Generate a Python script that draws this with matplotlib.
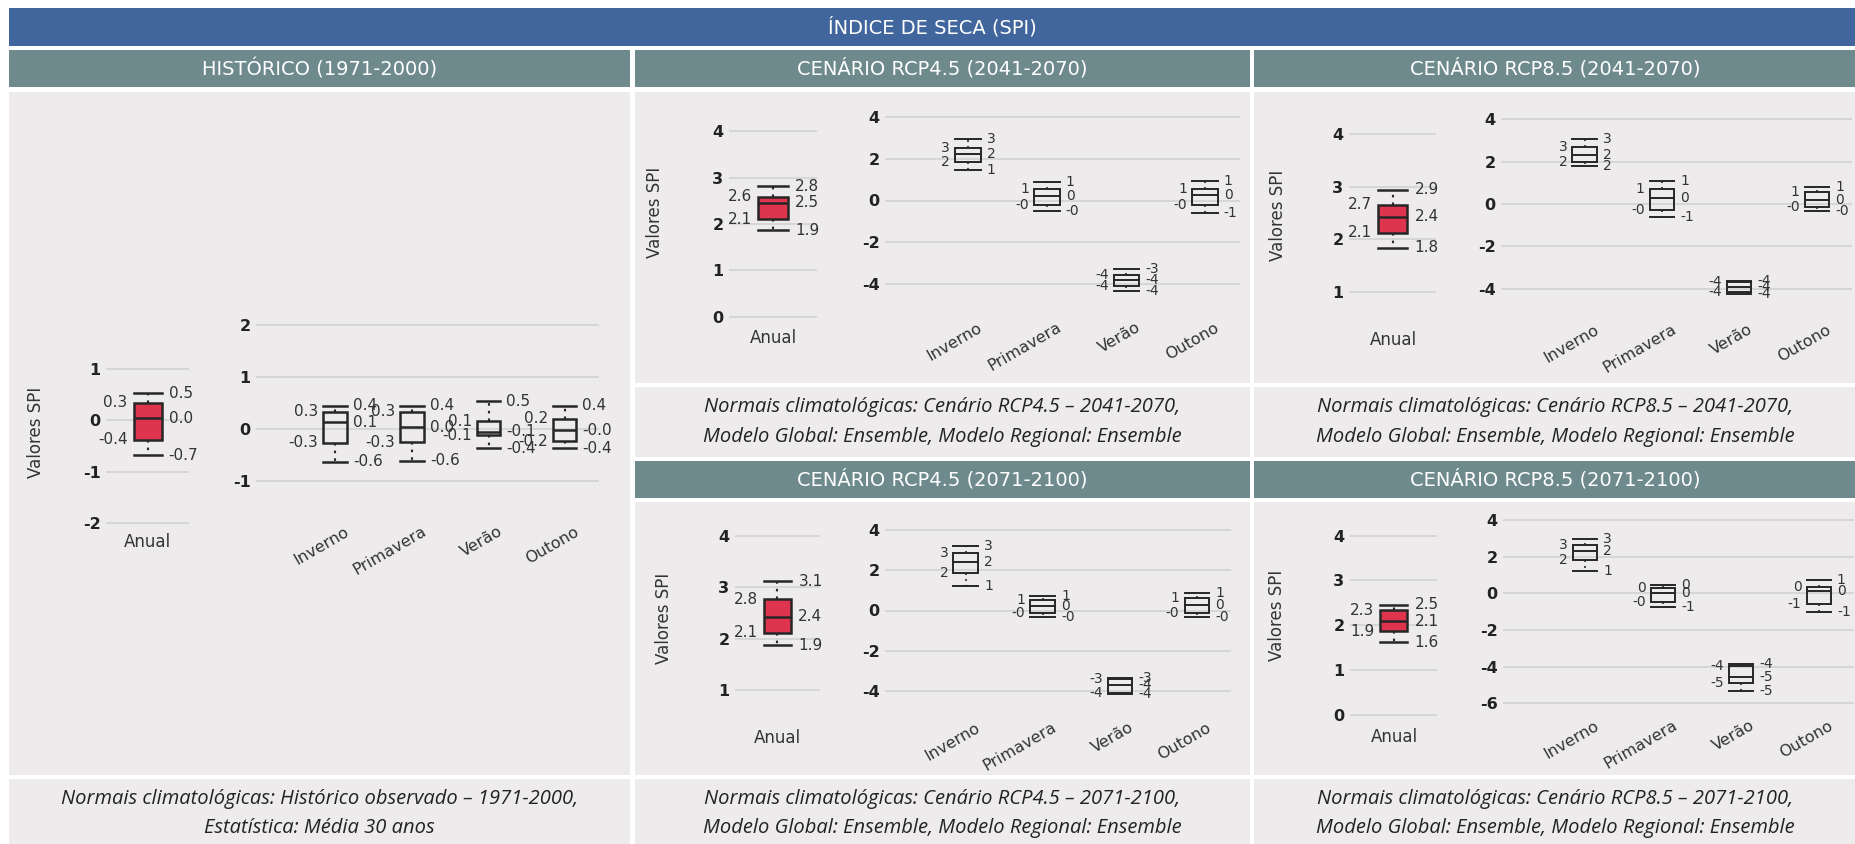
import matplotlib
matplotlib.use('Agg')
import matplotlib.pyplot as plt
from matplotlib.patches import Rectangle
from matplotlib.transforms import blended_transform_factory

# ---------------- data ----------------
title = 'ÍNDICE DE SECA (SPI)'
headers = ['HISTÓRICO (1971-2000)', 'CENÁRIO RCP4.5 (2041-2070)', 'CENÁRIO RCP8.5 (2041-2070)',
           'CENÁRIO RCP4.5 (2071-2100)', 'CENÁRIO RCP8.5 (2071-2100)']
footer_hist = ['Normais climatológicas: Histórico observado – 1971-2000,', 'Estatística: Média 30 anos']
footer_45a = ['Normais climatológicas: Cenário RCP4.5 – 2041-2070,', 'Modelo Global: Ensemble, Modelo Regional: Ensemble']
footer_85a = ['Normais climatológicas: Cenário RCP8.5 – 2041-2070,', 'Modelo Global: Ensemble, Modelo Regional: Ensemble']
footer_45b = ['Normais climatológicas: Cenário RCP4.5 – 2071-2100,', 'Modelo Global: Ensemble, Modelo Regional: Ensemble']
footer_85b = ['Normais climatológicas: Cenário RCP8.5 – 2071-2100,', 'Modelo Global: Ensemble, Modelo Regional: Ensemble']
seasons = ['Inverno', 'Primavera', 'Verão', 'Outono']
annual_cat = 'Anual'
y_label = 'Valores SPI'

# each list: [whisker low, q1, median, q3, whisker high]
hist_anual = [-0.68, -0.38, 0.04, 0.34, 0.53]
hist_inverno = [-0.64, -0.27, 0.12, 0.33, 0.44]
hist_primavera = [-0.62, -0.26, 0.03, 0.33, 0.44]
hist_verao = [-0.38, -0.13, -0.06, 0.14, 0.53]
hist_outono = [-0.38, -0.24, -0.03, 0.19, 0.44]

r45a_anual = [1.86, 2.10, 2.46, 2.59, 2.81]
r45a_inverno = [1.44, 1.84, 2.24, 2.52, 2.92]
r45a_primavera = [-0.49, -0.22, 0.20, 0.57, 0.89]
r45a_verao = [-4.32, -4.10, -3.79, -3.55, -3.27]
r45a_outono = [-0.62, -0.22, 0.25, 0.57, 0.94]

r85a_anual = [1.84, 2.12, 2.43, 2.66, 2.94]
r85a_inverno = [1.80, 2.00, 2.31, 2.71, 3.07]
r85a_primavera = [-0.60, -0.28, 0.27, 0.69, 1.09]
r85a_verao = [-4.27, -4.14, -3.90, -3.70, -3.64]
r85a_outono = [-0.31, -0.13, 0.19, 0.58, 0.79]

r45b_anual = [1.87, 2.12, 2.43, 2.77, 3.12]
r45b_inverno = [1.24, 1.85, 2.43, 2.85, 3.21]
r45b_primavera = [-0.30, -0.13, 0.20, 0.53, 0.70]
r45b_verao = [-4.14, -4.08, -3.69, -3.41, -3.36]
r45b_outono = [-0.33, -0.13, 0.28, 0.61, 0.89]

r85b_anual = [1.62, 1.86, 2.09, 2.33, 2.46]
r85b_inverno = [1.22, 1.84, 2.29, 2.65, 2.98]
r85b_primavera = [-0.75, -0.49, 0.02, 0.29, 0.47]
r85b_verao = [-5.31, -4.90, -4.55, -3.98, -3.84]
r85b_outono = [-1.04, -0.58, 0.11, 0.35, 0.71]

hist_anual_ticks = [-2, -1, 0, 1]
hist_season_ticks = [-1, 0, 1, 2]
r45a_anual_ticks = [0, 1, 2, 3, 4]
r45a_season_ticks = [-4, -2, 0, 2, 4]
r85a_anual_ticks = [1, 2, 3, 4]
r85a_season_ticks = [-4, -2, 0, 2, 4]
r45b_anual_ticks = [1, 2, 3, 4]
r45b_season_ticks = [-4, -2, 0, 2, 4]
r85b_anual_ticks = [0, 1, 2, 3, 4]
r85b_season_ticks = [-6, -4, -2, 0, 2, 4]

# ---------------- style ----------------
W, H = 1856, 844
BLUE = '#41669D'
HEAD = '#6E8A8D'
BG = '#EDEBEC'
RED = '#DF344E'
EDGE = '#262626'
GRID = '#D4D4D4'
TXT = '#333333'
plt.rcParams['font.family'] = ['DejaVu Sans']

fig = plt.figure(figsize=(W / 100, H / 100), dpi=100)
fig.patch.set_facecolor('white')


def rect(x0, y0, x1, y1, color):
    fig.patches.append(Rectangle((x0 / W, 1 - y1 / H), (x1 - x0) / W, (y1 - y0) / H,
                                 transform=fig.transFigure, facecolor=color, edgecolor='none', zorder=-5))


def ftext(x, y, s, **kw):
    fig.text(x / W, 1 - y / H, s, **kw)


# background blocks
rect(9, 8, 1856, 46, BLUE)
ftext(932, 27, title, color='white', fontsize=14, ha='center', va='center')
rect(9, 50, 630, 87, HEAD)
rect(635, 50, 1250, 87, HEAD)
rect(1254, 50, 1856, 87, HEAD)
rect(635, 461, 1250, 498, HEAD)
rect(1254, 461, 1856, 498, HEAD)
for (a, b), t, yc in [((9, 630), headers[0], 68.5), ((635, 1250), headers[1], 68.5),
                      ((1254, 1856), headers[2], 68.5), ((635, 1250), headers[3], 479.5),
                      ((1254, 1856), headers[4], 479.5)]:
    ftext((a + b) / 2, yc, t, color='white', fontsize=14, ha='center', va='center')
rect(9, 92, 630, 775, BG)
rect(635, 92, 1250, 383, BG)
rect(1254, 92, 1856, 383, BG)
rect(635, 502, 1250, 775, BG)
rect(1254, 502, 1856, 775, BG)
rect(9, 779, 630, 844, BG)
rect(635, 387, 1250, 457, BG)
rect(1254, 387, 1856, 457, BG)
rect(635, 779, 1250, 844, BG)
rect(1254, 779, 1856, 844, BG)

FOOT = dict(family='Open Sans', style='italic', fontsize=14.5, color='#222222', ha='center', va='center')
for (a, b), lines, y1, y2 in [((9, 630), footer_hist, 799, 828), ((635, 1250), footer_45a, 407, 437),
                              ((1254, 1856), footer_85a, 407, 437), ((635, 1250), footer_45b, 799, 828),
                              ((1254, 1856), footer_85b, 799, 828)]:
    ftext((a + b) / 2, y1, lines[0], **FOOT)
    ftext((a + b) / 2, y2, lines[1], **FOOT)


def make_axes(x0, x1, ytop, ybot, v_hi, py_hi, v_lo, py_lo, ticks):
    ppu = (py_lo - py_hi) / (v_hi - v_lo)

    def val(p):
        return v_hi - (p - py_hi) / ppu

    ax = fig.add_axes([x0 / W, 1 - ybot / H, (x1 - x0) / W, (ybot - ytop) / H])
    ax.set_ylim(val(ybot), val(ytop))
    ax.patch.set_alpha(0)
    for s in ax.spines.values():
        s.set_visible(False)
    ax.set_yticks(ticks)
    ax.set_yticklabels([str(t) for t in ticks], fontweight='bold', color='#222222', fontsize=11.5)
    ax.tick_params(axis='y', length=0, pad=4)
    ax.set_xticks([])
    ax.yaxis.grid(True, color=GRID, linewidth=1.3)
    ax.set_axisbelow(True)
    return ax


def draw_boxes(ax, stats_lists, centers, x0, x1, wpx, fill, fmt, lw, fs, gap):
    n = len(stats_lists)
    sp = (centers[-1] - centers[0]) / (n - 1) if n > 1 else 100.0
    pos = [(c - centers[0]) / sp for c in centers]
    ax.set_xlim((x0 - centers[0]) / sp, (x1 - centers[0]) / sp)
    w = wpx / sp
    stats = [dict(whislo=s[0], q1=s[1], med=s[2], q3=s[3], whishi=s[4]) for s in stats_lists]
    ax.bxp(stats, positions=pos, widths=w, capwidths=w, showfliers=False, patch_artist=True,
           manage_ticks=False,
           boxprops=dict(facecolor=fill, edgecolor=EDGE, linewidth=lw),
           medianprops=dict(color=EDGE, linewidth=lw),
           whiskerprops=dict(color=EDGE, linewidth=lw * 0.85, linestyle=(0, (1.2, 2.4))),
           capprops=dict(color=EDGE, linewidth=lw))
    for p, s in zip(pos, stats_lists):
        for v in (s[3], s[1]):
            ax.annotate(fmt.format(v), (p - w / 2, v), xytext=(-gap, 0), textcoords='offset pixels',
                        ha='right', va='center', fontsize=fs, color=TXT)
        for v in (s[4], s[2], s[0]):
            ax.annotate(fmt.format(v), (p + w / 2, v), xytext=(gap + 1, 0), textcoords='offset pixels',
                        ha='left', va='center', fontsize=fs, color=TXT)
    return pos


def panel(ylab_xy, an, se, anual_stats, season_stats, anual_ticks, season_ticks, season_fmt, s_lw, s_fs):
    ftext(ylab_xy[0], ylab_xy[1], y_label, rotation=90, ha='center', va='center', fontsize=12, color=TXT)
    # annual
    ax = make_axes(an['x0'], an['x1'], an['top'], an['bot'], an['vh'], an['ph'], an['vl'], an['pl'], anual_ticks)
    draw_boxes(ax, [anual_stats], [an['c']], an['x0'], an['x1'], an['w'], RED, '{:.1f}', 1.8, 11, 6)
    tr = blended_transform_factory(ax.transData, fig.transFigure)
    ax.text(0, 1 - an['lab'] / H, annual_cat, transform=tr, ha='center', va='center', fontsize=12, color=TXT)
    # seasons
    ax2 = make_axes(se['x0'], se['x1'], se['top'], se['bot'], se['vh'], se['ph'], se['vl'], se['pl'], season_ticks)
    pos = draw_boxes(ax2, season_stats, se['c'], se['x0'], se['x1'], se['w'], 'none', season_fmt, s_lw, s_fs, 5)
    tr2 = blended_transform_factory(ax2.transData, fig.transFigure)
    sp = (se['c'][-1] - se['c'][0]) / 3
    for p, name in zip(pos, seasons):
        ax2.text(p + 9 / sp, 1 - se['lab'] / H, name, transform=tr2, rotation=30, rotation_mode='anchor',
                 ha='right', va='top', fontsize=11.5, color=TXT)


# historical
panel((36, 432),
      dict(x0=106, x1=189, top=350, bot=530, vh=1, ph=369, vl=-2, pl=523, c=147.5, w=28, lab=542),
      dict(x0=256, x1=599, top=310, bot=515, vh=2, ph=325, vl=-1, pl=480.5, c=[335, 412, 488.6, 564.6], w=23.6, lab=524),
      hist_anual, [hist_inverno, hist_primavera, hist_verao, hist_outono],
      hist_anual_ticks, hist_season_ticks, '{:.1f}', 1.8, 11)
# RCP4.5 2041-2070
panel((655, 212),
      dict(x0=729, x1=817, top=118, bot=326, vh=4, ph=131.3, vl=0, pl=316.7, c=773, w=29.7, lab=338),
      dict(x0=885, x1=1240, top=104, bot=315, vh=4, ph=116.7, vl=-4, pl=284.3, c=[968, 1047, 1126.4, 1205], w=25.7, lab=320),
      r45a_anual, [r45a_inverno, r45a_primavera, r45a_verao, r45a_outono],
      r45a_anual_ticks, r45a_season_ticks, '{:.0f}', 1.4, 10)
# RCP8.5 2041-2070
panel((1278, 215),
      dict(x0=1349, x1=1436, top=120, bot=326, vh=4, ph=134.3, vl=1, pl=291.7, c=1393, w=29, lab=340),
      dict(x0=1501, x1=1852, top=106, bot=317, vh=4, ph=119.3, vl=-4, pl=288.7, c=[1584.7, 1662, 1739, 1817], w=24.5, lab=322),
      r85a_anual, [r85a_inverno, r85a_primavera, r85a_verao, r85a_outono],
      r85a_anual_ticks, r85a_season_ticks, '{:.0f}', 1.4, 10)
# RCP4.5 2071-2100
panel((664, 618),
      dict(x0=735, x1=820, top=522, bot=725, vh=4, ph=536, vl=1, pl=690, c=777.5, w=27.7, lab=738),
      dict(x0=885, x1=1231, top=517, bot=715, vh=4, ph=530, vl=-4, pl=691, c=[965.7, 1042.8, 1120, 1196.8], w=24.6, lab=720),
      r45b_anual, [r45b_inverno, r45b_primavera, r45b_verao, r45b_outono],
      r45b_anual_ticks, r45b_season_ticks, '{:.0f}', 1.4, 10)
# RCP8.5 2071-2100
panel((1277, 615),
      dict(x0=1350, x1=1437, top=522, bot=725, vh=4, ph=535.7, vl=0, pl=714.7, c=1394, w=27, lab=737),
      dict(x0=1503, x1=1854, top=507, bot=713, vh=4, ph=520, vl=-6, pl=703.3, c=[1585, 1663, 1741, 1818.7], w=24.4, lab=718),
      r85b_anual, [r85b_inverno, r85b_primavera, r85b_verao, r85b_outono],
      r85b_anual_ticks, r85b_season_ticks, '{:.0f}', 1.4, 10)

fig.savefig('out.png', dpi=100, facecolor='white')
